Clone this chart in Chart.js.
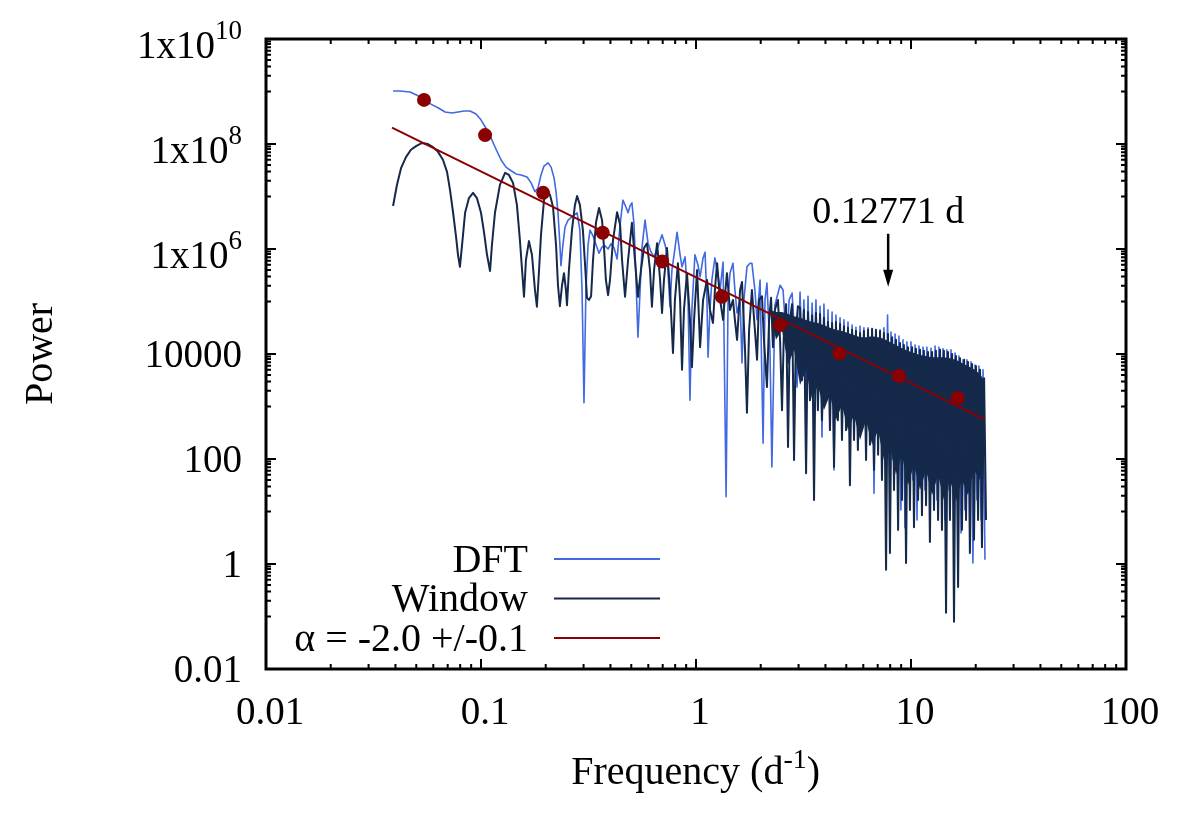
<!DOCTYPE html>
<html>
<head>
<meta charset="utf-8">
<script src="https://cdn.jsdelivr.net/npm/chart.js@4.4.0/dist/chart.umd.min.js"></script>
<style>
  body { margin: 0; background: #fff; }
  #wrap { width: 1196px; height: 837px; }
</style>
</head>
<body>
<div id="wrap"><canvas id="myChart" width="1196" height="837"></canvas></div>
<script>
// values, kept as log10 (frequency in d^-1, power)
var dftLogFreq = [
  -1.409, -1.377, -1.330, -1.298, -1.265, -1.233, -1.200, -1.167, -1.135, -1.107,
  -1.079, -1.051, -1.023, -1.000, -0.977, -0.953, -0.930, -0.907, -0.884, -0.860,
  -0.837, -0.814, -0.786, -0.767, -0.749, -0.735, -0.721, -0.707, -0.688, -0.674,
  -0.660, -0.651, -0.642, -0.633, -0.628, -0.619, -0.609, -0.595, -0.577, -0.553,
  -0.540, -0.530, -0.521, -0.512, -0.502, -0.493, -0.479, -0.465, -0.451, -0.437,
  -0.423, -0.409, -0.395, -0.381, -0.367, -0.353, -0.340, -0.326, -0.316, -0.307,
  -0.298, -0.288, -0.279, -0.270, -0.260, -0.251, -0.237, -0.223, -0.209, -0.195,
  -0.177, -0.158, -0.144, -0.135, -0.121, -0.112, -0.102, -0.088, -0.074, -0.065,
  -0.051, -0.037, -0.028, -0.019, -0.005, 0.009, 0.019, 0.033, 0.042, 0.051,
  0.056, 0.065, 0.074, 0.088, 0.102, 0.112, 0.126, 0.140, 0.149, 0.158,
  0.172, 0.181, 0.191, 0.205, 0.214, 0.223, 0.237, 0.251, 0.260, 0.274,
  0.284, 0.298, 0.312, 0.321, 0.330, 0.344, 0.353, 0.367, 0.377, 0.391,
  0.405, 0.414, 0.423, 0.433, 0.447, 0.460, 0.470,
  0.484, 0.493, 0.502, 0.512, 0.521, 0.530, 0.540, 0.549, 0.558, 0.567,
  0.577, 0.586, 0.595, 0.605, 0.614, 0.623, 0.633, 0.642, 0.651, 0.660,
  0.670, 0.679, 0.688, 0.698, 0.707, 0.716, 0.726, 0.735, 0.744, 0.753,
  0.763, 0.772, 0.781, 0.791, 0.800, 0.809, 0.819, 0.828, 0.837, 0.847,
  0.856, 0.865, 0.874, 0.884, 0.891, 0.898, 0.907, 0.916, 0.926, 0.935,
  0.944, 0.953, 0.963, 0.972, 0.981, 0.991, 1.000, 1.009, 1.019, 1.028,
  1.037, 1.047, 1.056, 1.065, 1.074, 1.084, 1.093, 1.102, 1.112, 1.121,
  1.130, 1.140, 1.149, 1.158, 1.167, 1.177, 1.186, 1.195, 1.205, 1.214,
  1.223, 1.233, 1.242, 1.251, 1.260, 1.270, 1.279, 1.288, 1.298, 1.307,
  1.316, 1.326, 1.335, 1.344
];
var dftLogPower = [
  9.01, 9.01, 8.99, 8.93, 8.84, 8.76, 8.69, 8.61, 8.59, 8.61,
  8.63, 8.63, 8.57, 8.46, 8.30, 8.11, 7.90, 7.70, 7.56, 7.49,
  7.43, 7.41, 7.37, 7.26, 7.09, 7.16, 7.41, 7.58, 7.64, 7.56,
  7.35, 7.09, 6.70, 6.08, 5.68, 6.08, 6.42, 6.55, 6.61, 6.69,
  6.36, 5.22, 3.07, 5.22, 6.08, 6.36, 6.25, 6.08, 5.92, 6.04,
  6.06, 6.00, 6.10, 6.02, 5.81, 6.46, 6.93, 6.80, 6.69, 6.82,
  6.88, 6.46, 5.41, 4.32, 5.22, 6.04, 6.55, 6.11, 5.94, 5.85,
  6.04, 6.27, 6.08, 5.92, 4.90, 5.60, 5.89, 6.32, 5.89, 5.66,
  5.85, 5.03, 3.12, 4.84, 5.89, 5.70, 5.47, 5.83, 5.94, 5.03,
  3.94, 4.84, 5.41, 5.83, 5.50, 5.22, 5.75, 1.28, 5.03, 5.54,
  5.73, 5.22, 4.78, 5.03, 3.83, 5.03, 5.66, 5.73, 5.73, 5.22,
  4.65, 5.41, 2.30, 5.03, 5.35, 4.08, 1.85, 4.93, 5.09, 5.31,
  5.22, 4.65, 4.13, 5.03, 5.16, 4.27, 3.37,
  5.18, 3.89, 5.03, 3.22, 5.10, 3.50, 4.97, 3.70, 5.03, 3.12,
  4.91, 2.42, 4.95, 3.31, 4.84, 2.93, 4.80, 1.79, 4.74, 3.12,
  4.69, 2.69, 4.65, 3.22, 4.61, 2.93, 4.55, 2.74, 4.51, 2.36,
  4.53, 3.03, 4.50, 2.55, 4.50, 2.84, 4.46, 1.35, 4.44, 2.36,
  4.46, 2.74, 4.50, 2.36, 4.74, 2.55, 4.42, 1.98, 4.38, 2.27,
  4.34, 1.03, 4.27, 0.69, 4.23, 1.79, 4.23, 1.60, 4.17, 0.84,
  4.15, 1.79, 4.13, 1.41, 4.13, 1.98, 4.11, 1.60, 4.15, 1.22,
  4.13, 1.79, 4.10, 0.84, 4.08, 1.41, 4.08, 1.60, 4.02, 1.22,
  3.96, 0.59, 3.89, 1.03, 3.89, 1.41, 3.85, 0.02, 3.79, 1.22,
  3.77, 0.84, 3.70, 0.08
];

var winLogFreq = [
  -1.409, -1.391, -1.372, -1.349, -1.326, -1.302, -1.274, -1.247, -1.223, -1.200,
  -1.177, -1.158, -1.144, -1.130, -1.116, -1.107, -1.098, -1.088, -1.074, -1.056,
  -1.037, -1.019, -1.000, -0.986, -0.972, -0.958, -0.949, -0.935, -0.912, -0.888,
  -0.870, -0.851, -0.833, -0.819, -0.809, -0.800, -0.791, -0.777, -0.763, -0.749,
  -0.740, -0.730, -0.721, -0.707, -0.693, -0.679, -0.665, -0.651, -0.642, -0.633,
  -0.623, -0.614, -0.605, -0.600, -0.591, -0.577, -0.563, -0.553, -0.540, -0.526,
  -0.516, -0.507, -0.498, -0.488, -0.479, -0.465, -0.451, -0.437, -0.428, -0.419,
  -0.409, -0.400, -0.386, -0.367, -0.353, -0.344, -0.330, -0.316, -0.298, -0.284,
  -0.270, -0.256, -0.242, -0.228, -0.214, -0.205, -0.195, -0.181, -0.167, -0.158,
  -0.149, -0.135, -0.121, -0.107, -0.098, -0.084, -0.074, -0.065, -0.056, -0.042,
  -0.028, -0.019, -0.009, 0.005, 0.019, 0.033, 0.051, 0.065, 0.079, 0.088,
  0.098, 0.112, 0.126, 0.135, 0.144, 0.158, 0.172, 0.181, 0.191, 0.205,
  0.214, 0.228, 0.237, 0.247, 0.260, 0.274, 0.284, 0.293, 0.307, 0.316,
  0.330, 0.340, 0.349, 0.358, 0.367, 0.381, 0.391, 0.400, 0.409, 0.419,
  0.428, 0.437, 0.447, 0.456, 0.465, 0.474,
  0.484, 0.493, 0.502, 0.512, 0.521, 0.530, 0.540, 0.549, 0.558, 0.567,
  0.577, 0.586, 0.595, 0.605, 0.614, 0.623, 0.633, 0.642, 0.651, 0.660,
  0.670, 0.679, 0.688, 0.698, 0.707, 0.716, 0.726, 0.735, 0.744, 0.753,
  0.763, 0.772, 0.781, 0.791, 0.800, 0.809, 0.819, 0.828, 0.837, 0.847,
  0.856, 0.865, 0.874, 0.884, 0.893, 0.902, 0.912, 0.921, 0.930, 0.940,
  0.949, 0.958, 0.967, 0.977, 0.986, 0.995, 1.005, 1.014, 1.023, 1.033,
  1.042, 1.051, 1.060, 1.070, 1.079, 1.088, 1.098, 1.107, 1.116, 1.126,
  1.135, 1.144, 1.153, 1.163, 1.172, 1.181, 1.191, 1.200, 1.209, 1.219,
  1.228, 1.237, 1.247, 1.256, 1.265, 1.274, 1.284, 1.293, 1.302, 1.312,
  1.321, 1.330, 1.340, 1.349
];
var winLogPower = [
  6.82, 7.22, 7.54, 7.75, 7.89, 7.96, 8.02, 8.00, 7.94, 7.85,
  7.70, 7.47, 7.12, 6.70, 6.23, 5.89, 5.66, 6.08, 6.69, 6.97,
  7.07, 6.97, 6.69, 6.32, 5.89, 5.58, 6.08, 6.69, 7.22, 7.45,
  7.41, 7.26, 6.84, 6.17, 5.60, 5.09, 5.79, 6.15, 5.89, 5.22,
  4.90, 5.60, 6.27, 6.93, 7.12, 7.03, 6.80, 6.08, 5.31, 4.91,
  5.31, 5.54, 5.22, 4.93, 5.60, 6.36, 6.84, 7.01, 6.84, 6.36,
  5.70, 5.07, 5.03, 5.10, 5.79, 6.51, 6.78, 6.55, 6.04, 5.41,
  5.12, 5.41, 6.17, 6.70, 6.46, 5.79, 5.09, 5.79, 6.50, 5.79,
  5.09, 5.60, 6.02, 6.11, 5.60, 4.90, 5.60, 6.11, 5.41, 4.78,
  5.41, 6.02, 5.22, 4.02, 5.03, 5.73, 5.03, 3.70, 4.84, 5.54,
  4.65, 3.75, 4.65, 5.60, 4.13, 5.03, 5.41, 4.84, 4.59, 5.22,
  5.73, 5.03, 4.65, 5.12, 5.54, 4.84, 5.03, 4.65, 4.27, 5.22,
  5.37, 4.08, 2.88, 4.46, 5.22, 4.46, 3.89, 5.03, 5.10, 4.27,
  3.37, 4.65, 5.07, 4.13, 4.84, 5.03, 4.27, 2.93, 4.46, 4.95,
  2.23, 4.65, 4.95, 1.98, 4.46, 4.91,
  4.88, 3.50, 4.84, 1.73, 4.80, 3.12, 4.74, 1.22, 4.78, 2.93,
  4.76, 2.74, 4.69, 3.22, 4.61, 2.55, 4.59, 1.85, 4.61, 2.74,
  4.57, 2.36, 4.53, 2.55, 4.50, 1.50, 4.46, 2.36, 4.44, 2.17,
  4.40, 2.55, 4.44, 1.98, 4.46, 2.27, 4.48, 1.79, 4.46, 2.08,
  4.44, 1.60, 4.40, -0.11, 4.38, 0.21, 4.32, 1.41, 4.27, 0.65,
  4.21, 1.22, 4.17, 0.02, 4.13, 1.03, 4.13, 0.70, 4.10, 1.22,
  4.08, 0.93, 4.06, 1.12, 4.04, 0.42, 4.04, 1.03, 4.06, 0.84,
  4.08, 0.65, 4.06, -0.93, 4.04, 0.84, 4.00, -1.10, 3.96, -0.44,
  3.92, 0.65, 3.89, 0.84, 3.85, 0.21, 3.81, 0.46, 3.77, 0.84,
  3.70, 0.32, 3.54, 0.84
];

// solid part of the window band at high frequency (upper and ragged lower edge)
var bandLogFreq = [
  0.344, 0.372, 0.400, 0.428, 0.456, 0.484, 0.512, 0.540, 0.567, 0.595,
  0.623, 0.651, 0.679, 0.707, 0.735, 0.763, 0.791, 0.819, 0.847, 0.874,
  0.902, 0.930, 0.958, 0.986, 1.014, 1.042, 1.070, 1.098, 1.126, 1.153,
  1.181, 1.209, 1.237, 1.265, 1.293, 1.321, 1.344
];
var bandTopLogPower = [
  4.84, 4.80, 4.80, 4.76, 4.72, 4.69, 4.65, 4.61, 4.59, 4.55,
  4.50, 4.46, 4.44, 4.40, 4.36, 4.32, 4.32, 4.34, 4.32, 4.29,
  4.23, 4.17, 4.11, 4.06, 4.02, 3.98, 3.96, 3.94, 3.94, 3.94,
  3.92, 3.89, 3.83, 3.77, 3.71, 3.62, 3.47
];
var bandBottomLogPower = [
  4.84, 4.27, 4.46, 3.79, 4.08, 3.41, 3.70, 3.12, 3.41, 2.93,
  3.22, 2.74, 3.03, 2.55, 2.84, 2.36, 2.74, 2.27, 2.55, 1.98,
  2.27, 1.70, 2.08, 1.50, 1.89, 1.41, 1.79, 1.31, 1.70, 1.22,
  1.60, 1.22, 1.60, 1.31, 1.79, 1.60, 2.17
];

// power-law fit and binned means
var fitLogFreq = [-1.414, 1.344];
var fitLogPower = [8.31, 2.75];
var binLogFreq = [-1.265, -0.981, -0.711, -0.434, -0.157, 0.120, 0.391, 0.667, 0.944, 1.217];
var binLogPower = [8.84, 8.17, 7.07, 6.31, 5.76, 5.09, 4.55, 4.01, 3.58, 3.16];

// marked period
var markPeriod = 0.12771;
var markLabel = '0.12771 d';
var markArrowLogPower = [6.29, 5.28];
var markTextLogPower = 6.50;

var xTickValues = [0.01, 0.1, 1, 10, 100];
var xTickLabels = ['0.01', '0.1', '1', '10', '100'];
var yTickValues = [1e10, 1e8, 1e6, 1e4, 100, 1, 0.01];
var yTickLabels = ['1x10^10', '1x10^8', '1x10^6', '10000', '100', '1', '0.01'];

var FONT = '"Liberation Serif", "Times New Roman", serif';
var NAVY = '#15294a';

function toPoints(lf, lp) {
  return lf.map(function(f, i) {
    return { x: Math.pow(10, f), y: Math.pow(10, lp[i]) };
  });
}

// text with an optional ^superscript part
function supText(c, text, x, y, size, supSize, rise, align) {
  var parts = text.split('^');
  c.font = size + 'px ' + FONT;
  var w1 = c.measureText(parts[0]).width;
  var w2 = 0;
  if (parts[1]) {
    c.font = supSize + 'px ' + FONT;
    w2 = c.measureText(parts[1]).width;
  }
  var x0 = align === 'right' ? x - w1 - w2 : x - (w1 + w2) / 2;
  c.textAlign = 'left';
  c.font = size + 'px ' + FONT;
  c.fillText(parts[0], x0, y);
  if (parts[1]) {
    c.font = supSize + 'px ' + FONT;
    c.fillText(parts[1], x0 + w1, y - rise);
  }
  return x0 + w1 + w2;
}

var frame = {
  id: 'frame',
  afterDraw: function(chart) {
    var c = chart.ctx;
    var a = chart.chartArea;
    var xs = chart.scales.x, ys = chart.scales.y;
    c.save();
    c.fillStyle = '#000';
    c.strokeStyle = '#000';
    c.textBaseline = 'alphabetic';

    // tick marks, inside, mirrored on all sides
    c.lineWidth = 2;
    c.beginPath();
    xTickValues.forEach(function(v, i) {
      var px = xs.getPixelForValue(v);
      c.moveTo(px, a.bottom); c.lineTo(px, a.bottom - 10);
      c.moveTo(px, a.top); c.lineTo(px, a.top + 10);
      if (i < xTickValues.length - 1) {
        for (var k = 2; k <= 9; k++) {
          var m = xs.getPixelForValue(v * k);
          c.moveTo(m, a.bottom); c.lineTo(m, a.bottom - 5);
          c.moveTo(m, a.top); c.lineTo(m, a.top + 5);
        }
      }
    });
    yTickValues.forEach(function(v, i) {
      var py = ys.getPixelForValue(v);
      c.moveTo(a.left, py); c.lineTo(a.left + 10, py);
      c.moveTo(a.right, py); c.lineTo(a.right - 10, py);
      if (i < yTickValues.length - 1) {
        for (var k = 1; k <= 9; k++) {
          var m = ys.getPixelForValue(v / 10 * k);
          c.moveTo(a.left, m); c.lineTo(a.left + 5, m);
          c.moveTo(a.right, m); c.lineTo(a.right - 5, m);
        }
      }
    });
    c.stroke();

    c.lineWidth = 3;
    c.strokeRect(a.left, a.top, a.right - a.left, a.bottom - a.top);

    // tick labels
    c.font = '39px ' + FONT;
    c.textAlign = 'center';
    xTickValues.forEach(function(v, i) {
      c.fillText(xTickLabels[i], xs.getPixelForValue(v) + 4, a.bottom + 55);
    });
    yTickValues.forEach(function(v, i) {
      var py = ys.getPixelForValue(v);
      var lab = yTickLabels[i];
      var hasSup = lab.indexOf('^') >= 0;
      supText(c, lab, a.left - 24, py + (hasSup ? 19 : 13), 39, 27, 19, 'right');
    });

    // axis titles
    var tEnd = supText(c, 'Frequency (d^-1', (a.left + a.right) / 2 - 7, a.bottom + 115, 40, 28, 16, 'center');
    c.font = '40px ' + FONT;
    c.textAlign = 'left';
    c.fillText(')', tEnd, a.bottom + 115);

    c.save();
    c.translate(52, (a.top + a.bottom) / 2);
    c.rotate(-Math.PI / 2);
    c.textAlign = 'center';
    c.font = '40px ' + FONT;
    c.fillText('Power', 0, 0);
    c.restore();

    // legend
    var items = [3, 2, 1];
    c.font = '40px ' + FONT;
    items.forEach(function(di, j) {
      var ds = chart.data.datasets[di];
      var ly = a.top + 520 + j * 39.5;
      c.fillStyle = '#000';
      c.textAlign = 'right';
      c.textBaseline = 'middle';
      c.fillText(ds.label, a.left + 262, ly + 2);
      c.strokeStyle = ds.borderColor;
      c.lineWidth = 2;
      c.beginPath();
      c.moveTo(a.left + 288, ly);
      c.lineTo(a.left + 394, ly);
      c.stroke();
    });

    // period marker
    var mx = xs.getPixelForValue(1 / markPeriod);
    var y1 = ys.getPixelForValue(Math.pow(10, markArrowLogPower[0]));
    var y2 = ys.getPixelForValue(Math.pow(10, markArrowLogPower[1]));
    c.strokeStyle = '#000';
    c.fillStyle = '#000';
    c.lineWidth = 2.5;
    c.beginPath();
    c.moveTo(mx, y1); c.lineTo(mx, y2 - 12);
    c.stroke();
    c.beginPath();
    c.moveTo(mx - 5, y2 - 17); c.lineTo(mx + 5, y2 - 17); c.lineTo(mx, y2);
    c.closePath();
    c.fill();
    c.textAlign = 'center';
    c.textBaseline = 'alphabetic';
    c.font = '38px ' + FONT;
    c.fillText(markLabel, mx, ys.getPixelForValue(Math.pow(10, markTextLogPower)));
    c.restore();
  }
};

var ctx = document.getElementById('myChart').getContext('2d');
var chart = new Chart(ctx, {
  type: 'line',
  data: {
    datasets: [{
      label: 'binned',
      data: toPoints(binLogFreq, binLogPower),
      showLine: false,
      pointRadius: 7,
      pointBackgroundColor: '#8b0000',
      pointBorderWidth: 0,
      order: 0
    }, {
      label: 'α = -2.0 +/-0.1',
      data: toPoints(fitLogFreq, fitLogPower),
      borderColor: '#8b0000',
      borderWidth: 2,
      pointRadius: 0,
      order: 1
    }, {
      label: 'Window',
      data: toPoints(winLogFreq, winLogPower),
      borderColor: NAVY,
      borderWidth: 2,
      pointRadius: 0,
      order: 2
    }, {
      label: 'DFT',
      data: toPoints(dftLogFreq, dftLogPower),
      borderColor: '#4169e1',
      borderWidth: 1.6,
      pointRadius: 0,
      order: 3
    }, {
      label: 'band top',
      data: toPoints(bandLogFreq, bandTopLogPower),
      borderColor: 'rgba(0,0,0,0)',
      borderWidth: 1,
      pointRadius: 0,
      fill: false,
      order: 2
    }, {
      label: 'band bottom',
      data: toPoints(bandLogFreq, bandBottomLogPower),
      borderColor: 'rgba(0,0,0,0)',
      borderWidth: 1,
      pointRadius: 0,
      fill: '-1',
      backgroundColor: NAVY,
      order: 2
    }]
  },
  options: {
    responsive: false,
    animation: false,
    layout: { padding: { left: 266, right: 70, top: 39, bottom: 168 } },
    elements: { line: { tension: 0, borderJoinStyle: 'round' } },
    scales: {
      x: { type: 'logarithmic', min: 0.01, max: 100, display: false },
      y: { type: 'logarithmic', min: 0.01, max: 1e10, display: false }
    },
    plugins: {
      legend: { display: false },
      tooltip: { enabled: false }
    }
  },
  plugins: [frame]
});
</script>
</body>
</html>
